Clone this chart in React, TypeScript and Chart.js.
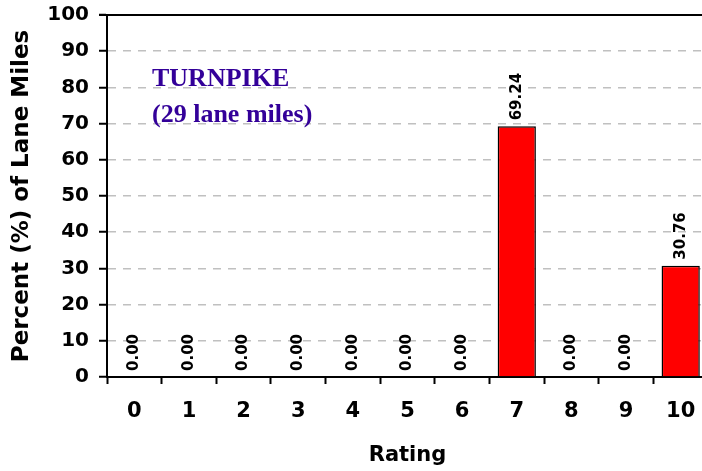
import React, { useEffect, useRef } from "react";
import { Chart, registerables } from "chart.js";

Chart.register(...registerables);

const categories = ["0", "1", "2", "3", "4", "5", "6", "7", "8", "9", "10"];
const percentValues = [0, 0, 0, 0, 0, 0, 0, 69.24, 0, 0, 30.76];
const yTickMin = 0;
const yTickMax = 100;
const yTickStep = 10;
const noteLines = ["TURNPIKE", "(29 lane miles)"];
const yTitle = "Percent (%) of Lane Miles";
const xTitle = "Rating";

const FONT = "'DejaVu Sans', 'Liberation Sans', Arial, sans-serif";

const extrasPlugin = {
  id: "extras",
  afterDatasetsDraw(chart: any) {
    const ctx = chart.ctx;
    const meta = chart.getDatasetMeta(0);
    ctx.save();
    ctx.font = `bold 15px ${FONT}`;
    ctx.fillStyle = "#000";
    ctx.textAlign = "left";
    ctx.textBaseline = "middle";
    meta.data.forEach((bar: any, i: number) => {
      const v = percentValues[i];
      ctx.save();
      ctx.translate(bar.x, bar.y - 6);
      ctx.rotate(-Math.PI / 2);
      ctx.fillText(v.toFixed(2), 0, 0);
      ctx.restore();
    });
    ctx.restore();
  },
  afterDraw(chart: any) {
    const ctx = chart.ctx;
    const { left, right, top } = chart.chartArea;
    ctx.save();
    ctx.strokeStyle = "#000";
    ctx.lineWidth = 2;
    ctx.beginPath();
    ctx.moveTo(left - 8, top);
    ctx.lineTo(right, top);
    ctx.stroke();
    ctx.fillStyle = "#330099";
    ctx.font = `bold 26px 'Liberation Serif', 'Times New Roman', serif`;
    ctx.textAlign = "left";
    ctx.textBaseline = "alphabetic";
    ctx.fillText(noteLines[0], left + 45, top + 71);
    ctx.fillText(noteLines[1], left + 45, top + 107);
    ctx.restore();
  },
};

export default function App() {
  const ref = useRef<HTMLCanvasElement | null>(null);
  useEffect(() => {
    if (!ref.current) return;
    const chart = new Chart(ref.current, {
      type: "bar",
      data: {
        labels: categories,
        datasets: [
          {
            data: percentValues,
            backgroundColor: "#ff0000",
            borderColor: "#000000",
            borderWidth: 1.5,
            barPercentage: 0.7,
            categoryPercentage: 1,
          },
        ],
      },
      options: {
        animation: false,
        responsive: false,
        maintainAspectRatio: false,
        layout: { padding: { left: 0, top: 15, right: 2, bottom: 0 } },
        plugins: {
          legend: { display: false },
          tooltip: { enabled: false },
          title: { display: false },
        },
        scales: {
          x: {
            offset: true,
            afterFit: (s: any) => {
              s.height = 94;
              s.paddingLeft = 0;
              s.paddingRight = 0;
            },
            grid: {
              offset: true,
              drawOnChartArea: false,
              drawTicks: true,
              tickLength: 7,
              tickColor: "#000",
              tickWidth: 2,
            },
            border: { display: true, color: "#000", width: 2 },
            ticks: {
              color: "#000",
              font: { family: FONT, size: 21, weight: "bold" },
              padding: 15,
              maxRotation: 0,
              autoSkip: false,
            },
            title: {
              display: true,
              text: xTitle,
              color: "#000",
              font: { family: FONT, size: 21, weight: "bold" },
              padding: { top: 0, bottom: 3 },
            },
          },
          y: {
            min: yTickMin,
            max: yTickMax,
            afterFit: (s: any) => {
              s.width = 107;
              s.paddingTop = 0;
              s.paddingBottom = 0;
            },
            grid: {
              color: (c: any) =>
                c.tick && (c.tick.value === yTickMin || c.tick.value === yTickMax)
                  ? "rgba(0,0,0,0)"
                  : "#c0c0c0",
              lineWidth: 1.5,
              drawTicks: true,
              tickLength: 8,
              tickColor: "#000",
              tickWidth: 2,
              tickBorderDash: [],
            },
            border: { display: true, color: "#000", width: 2, dash: [8, 7] },
            ticks: {
              stepSize: yTickStep,
              color: "#000",
              font: { family: FONT, size: 20, weight: "bold" },
              padding: 10,
            },
            title: {
              display: true,
              text: yTitle,
              color: "#000",
              font: { family: FONT, size: 23, weight: "bold" },
              padding: { top: 8, bottom: 0 },
            },
          },
        },
      },
      plugins: [extrasPlugin],
    });
    return () => chart.destroy();
  }, []);
  return (
    <div
      style={{
        position: "absolute",
        left: 0,
        top: 0,
        width: 702,
        height: 471,
        overflow: "hidden",
        background: "#fff",
      }}
    >
      <canvas ref={ref} width={710} height={471} style={{ display: "block" }} />
    </div>
  );
}
